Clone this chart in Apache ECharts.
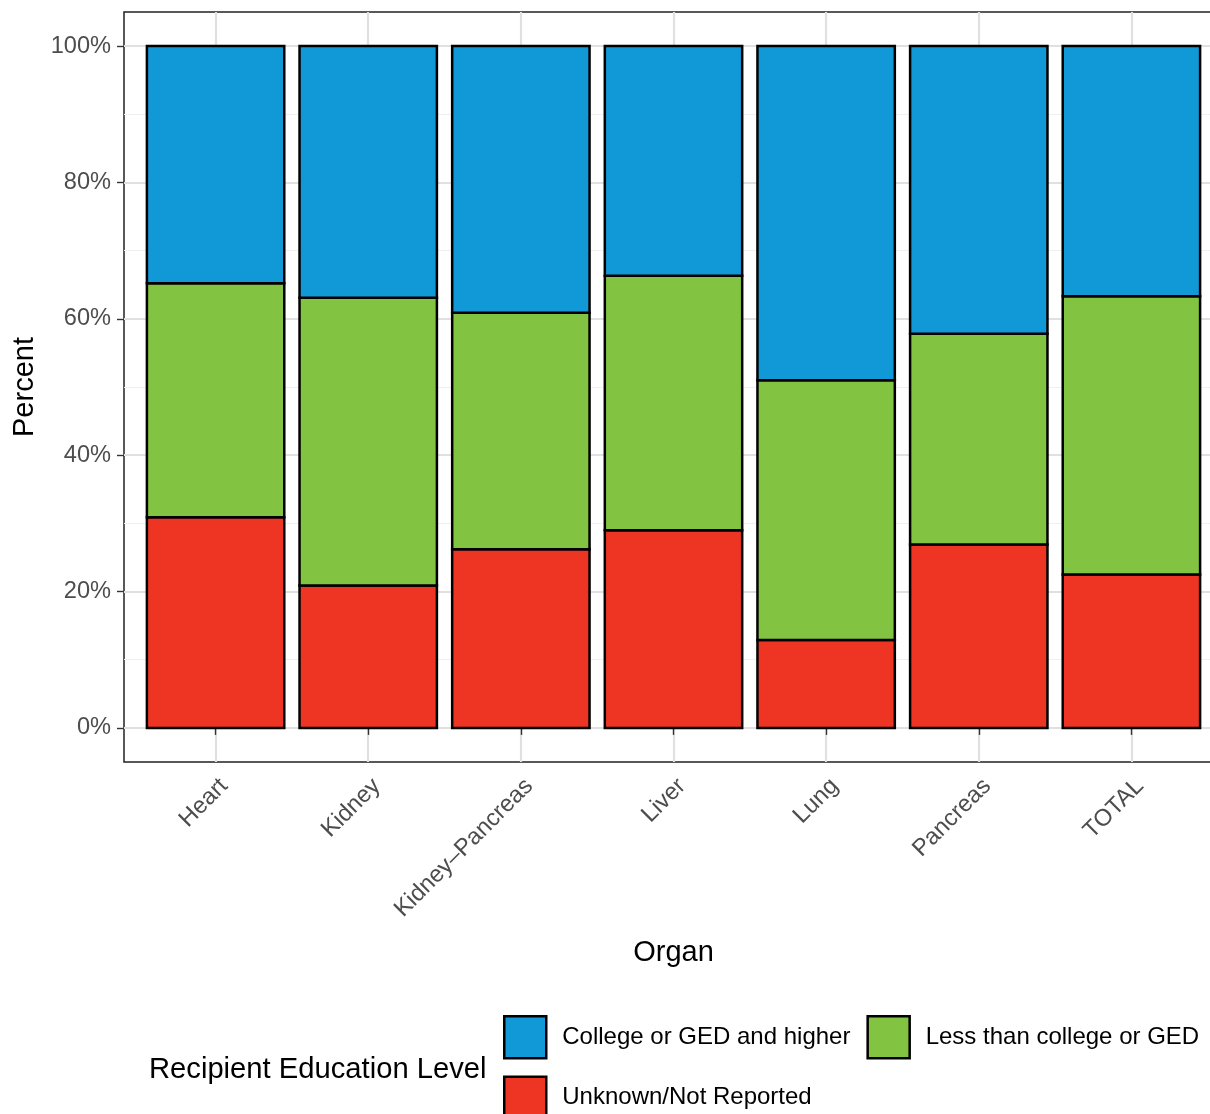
<!DOCTYPE html>
<html><head><meta charset="utf-8">
<script src="https://cdn.jsdelivr.net/npm/echarts@6/dist/echarts.min.js"></script>
<style>html,body{margin:0;padding:0;overflow:hidden;background:#fff;width:1210px;height:1114px}#c{width:1223px;height:1114px}</style>
</head><body><div id="c"></div>
<script>
const categories = ['Heart','Kidney','Kidney–Pancreas','Liver','Lung','Pancreas','TOTAL'];
const unknownPct = [30.9,20.9,26.2,29.0,12.9,26.9,22.5];
const lessPct    = [34.3,42.2,34.7,37.3,38.1,30.9,40.8];
const collegePct = [34.8,36.9,39.1,33.7,49.0,42.2,36.7];
const yTicks = [0,20,40,60,80,100];
const yMinor = [10,30,50,70,90];
const seriesNames = ['Unknown/Not Reported','Less than college or GED','College or GED and higher'];
const legendOrder = ['College or GED and higher','Less than college or GED','Unknown/Not Reported'];
const colors = {'Unknown/Not Reported':'#EE3524','Less than college or GED':'#82C341','College or GED and higher':'#1198D6'};

const xPos = categories.map((c,i)=>i+1);
const FONT = "'Liberation Sans', Arial, Helvetica, sans-serif";
const chart = echarts.init(document.getElementById('c'), null, {renderer:'canvas'});
const valuesBy = [unknownPct, lessPct, collegePct];

// stacked segments: [x, base, top] built from the value arrays
const stacked = [];
const running = categories.map(()=>0);
valuesBy.forEach((vals)=>{
  stacked.push(vals.map((v,i)=>{ const b = running[i]; running[i] += v; return [xPos[i], b, running[i]]; }));
});

function renderBar(params, api){
  const x = api.value(0), y0 = api.value(1), y1 = api.value(2);
  const p0 = api.coord([x, y0]);
  const p1 = api.coord([x, y1]);
  const w = api.size([0.9, 0])[0];
  return {type:'rect',
    shape:{x:p0[0]-w/2, y:p1[1], width:w, height:p0[1]-p1[1]},
    style:{fill:api.visual('color'), stroke:'#000', lineWidth:2.5}};
}

chart.setOption({
  animation:false,
  textStyle:{fontFamily:FONT},
  title:{text:'Recipient Education Level', left:149, top:1053, padding:0,
    textStyle:{fontFamily:FONT, fontSize:29.2, fontWeight:'normal', color:'#000', lineHeight:34}},
  grid:{left:124, right:0, top:12, bottom:352, show:true, borderColor:'#222', borderWidth:1.5, backgroundColor:'#fff'},
  legend:{data:legendOrder, left:503, top:1015, padding:0, width:705, orient:'horizontal', itemWidth:42, itemHeight:42, itemGap:16,
    icon:'rect', selectedMode:false,
    itemStyle:{borderColor:'#000', borderWidth:2.5},
    textStyle:{fontFamily:FONT, fontSize:24, color:'#000', padding:[0,0,0,11]}},
  xAxis:{type:'value', min:0.4, max:7.6,
    name:'Organ', nameLocation:'middle', nameGap:176,
    nameTextStyle:{fontFamily:FONT, fontSize:29, color:'#000'},
    axisLine:{show:false},
    axisTick:{show:true, length:7, lineStyle:{color:'#333', width:1.4}, customValues:xPos},
    axisLabel:{show:true, customValues:xPos, rotate:45, margin:12, align:'right', verticalAlign:'top',
      fontFamily:FONT, fontSize:23.6, color:'#4d4d4d',
      formatter:(v)=>categories[Math.round(v)-1] || ''},
    splitLine:{show:true, lineStyle:{color:'#e0e0e0', width:2.2}}
  },
  yAxis:[{type:'value', min:-5, max:105,
    name:'Percent', nameLocation:'middle', nameGap:83,
    nameTextStyle:{fontFamily:FONT, fontSize:29, color:'#000'},
    axisLine:{show:false},
    axisTick:{show:true, length:7, lineStyle:{color:'#333', width:1.4}, customValues:yTicks},
    axisLabel:{show:true, customValues:yTicks, margin:13, fontFamily:FONT, fontSize:23.6, color:'#4d4d4d',
      formatter:(v)=>v+'%'},
    splitLine:{show:true, lineStyle:{color:'#e0e0e0', width:2.2}}
  },{type:'value', min:-5, max:105, position:'left',
    axisLine:{show:false},
    axisTick:{show:false, customValues:yMinor},
    axisLabel:{show:false, customValues:yMinor},
    splitLine:{show:true, lineStyle:{color:'#f0f0f0', width:1.2}}
  }],
  series: seriesNames.map((n,k)=>({
    name:n, type:'custom', xAxisIndex:0, yAxisIndex:0,
    renderItem:renderBar, encode:{x:0, y:[1,2]},
    data:stacked[k],
    itemStyle:{color:colors[n], borderColor:'#000', borderWidth:2.5},
    emphasis:{disabled:true}
  }))
});
</script></body></html>
